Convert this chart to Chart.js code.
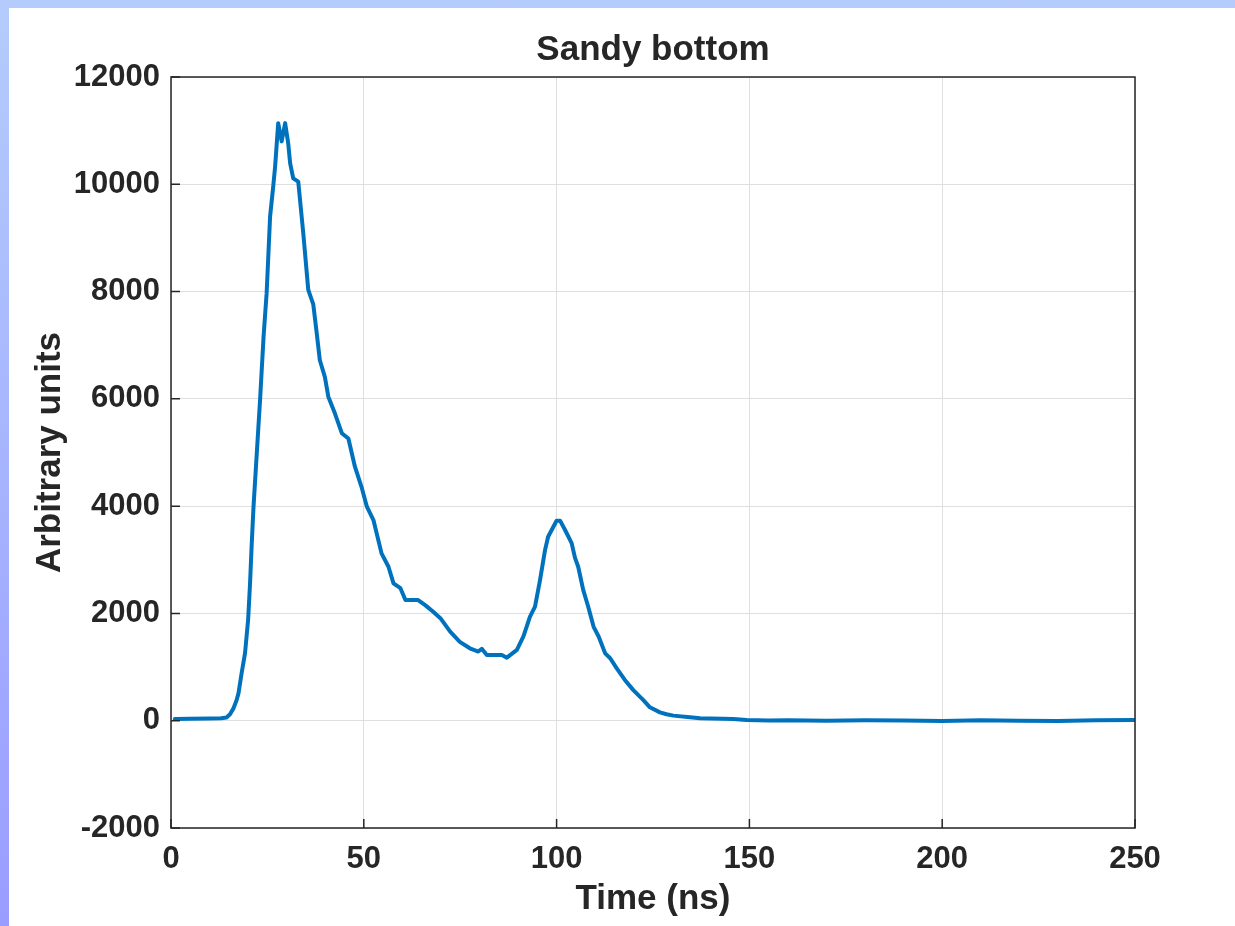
<!DOCTYPE html>
<html>
<head>
<meta charset="utf-8">
<script src="https://cdn.jsdelivr.net/npm/chart.js@4/dist/chart.umd.min.js"></script>
<style>
  html, body { margin: 0; padding: 0; }
  #frame { position: relative; width: 1235px; height: 926px; background: linear-gradient(#b4ccfc, #9a9cff); overflow: hidden; }
  #paper { position: absolute; left: 9px; top: 8px; right: 0; bottom: 0; background: #fff; }
  #chart { position: absolute; left: 0; top: 0; }
</style>
</head>
<body>
<div id="frame">
  <div id="paper"></div>
  <canvas id="chart" width="1235" height="926"></canvas>
</div>
<script>
// data (time in ns, signal in arbitrary units)
const times = [1, 5, 10, 13, 14.4, 15.3, 16.2, 17.0, 17.5, 18.3, 19.2, 20.0, 20.5, 20.9, 21.4, 22.3, 23.1, 24.0,
  24.8, 25.7, 26.5, 27.0, 27.8, 28.7, 29.6, 30.4, 30.9, 31.7, 33.0, 34.3, 35.6, 36.9, 37.8, 38.6, 39.9, 40.8,
  42.5, 44.3, 46.0, 47.7, 49.4, 50.8, 52.5, 54.6, 56.4, 57.7, 59.5, 60.8, 64.1, 66, 68, 70, 72.4, 74.9, 77.5,
  79.7, 80.6, 81.9, 85.8, 87.1, 89.7, 91.4, 93.1, 94.4, 95.7, 97.0, 97.8, 99.2, 100.0, 100.9, 102.2, 103.9,
  104.8, 105.6, 106.9, 108.2, 109.6, 110.9, 112.6, 113.9, 115.6, 117.7, 119.9, 122.5, 124.2, 126.8, 128.5,
  130.3, 134.6, 137.2, 145.8, 149.3, 155, 160, 170, 180, 190, 200, 210, 220, 230, 240, 250];
const signal = [30, 35, 40, 45, 60, 120, 230, 380, 510, 880, 1260, 1880, 2560, 3240, 3990, 5050, 5980, 7150,
  7970, 9400, 9955, 10330, 11140, 10800, 11140, 10760, 10390, 10110, 10050, 9090, 8030, 7760, 7220, 6720, 6410, 6040,
  5730, 5360, 5260, 4735, 4360, 3990, 3740, 3120, 2870, 2560, 2470, 2250, 2250, 2150, 2030, 1900, 1660, 1470, 1350,
  1290, 1340, 1225, 1225, 1175, 1320, 1570, 1940, 2125, 2620, 3180, 3430, 3620, 3730, 3730, 3555, 3310,
  3030, 2870, 2440, 2125, 1750, 1570, 1255, 1165, 975, 760, 570, 385, 250, 155, 120,
  95, 65, 45, 30, 13, 5, 10, 0, 10, 5, -5, 10, 0, -5, 10, 15];
const xTicks = [0, 50, 100, 150, 200, 250];
const yTicks = [-2000, 0, 2000, 4000, 6000, 8000, 10000, 12000];

const ink = '#262626';
const fontFam = '"Liberation Sans", Arial, sans-serif';

// box around the axes plus inward tick marks, matlab style
const axesBox = {
  id: 'axesBox',
  afterDraw(chart) {
    const { ctx, chartArea: a, scales } = chart;
    ctx.save();
    ctx.strokeStyle = ink;
    ctx.lineWidth = 1.5;
    ctx.strokeRect(a.left, a.top, a.right - a.left, a.bottom - a.top);
    ctx.beginPath();
    xTicks.forEach(v => {
      const px = scales.x.getPixelForValue(v);
      ctx.moveTo(px, a.bottom); ctx.lineTo(px, a.bottom - 9);
    });
    yTicks.forEach(v => {
      const py = scales.y.getPixelForValue(v);
      ctx.moveTo(a.left, py); ctx.lineTo(a.left + 9, py);
    });
    ctx.stroke();
    ctx.restore();
  }
};

new Chart(document.getElementById('chart'), {
  type: 'line',
  data: {
    datasets: [{
      data: times.map((t, i) => ({ x: t, y: signal[i] })),
      borderColor: '#0072BD',
      borderWidth: 4,
      borderJoinStyle: 'round',
      borderCapStyle: 'round',
      pointRadius: 0,
      tension: 0,
      fill: false
    }]
  },
  options: {
    responsive: false,
    animation: false,
    layout: { padding: { left: 0, right: 100, top: 0, bottom: 0 } },
    plugins: {
      legend: { display: false },
      tooltip: { enabled: false },
      title: {
        display: true,
        fullSize: false,
        text: 'Sandy bottom',
        color: ink,
        font: { family: fontFam, size: 35, weight: 'bold', lineHeight: 1.2 },
        padding: { top: 29, bottom: 6 }
      }
    },
    scales: {
      x: {
        type: 'linear',
        min: 0, max: 250,
        afterBuildTicks: s => { s.ticks = xTicks.map(v => ({ value: v })); },
        afterFit: s => { s.height = 98; },
        grid: { color: '#dfdfdf', lineWidth: 1, drawTicks: false },
        border: { display: false },
        ticks: { color: ink, padding: 13, maxRotation: 0, font: { family: fontFam, size: 31, weight: 'bold' }, callback: v => String(v) },
        title: {
          display: true, text: 'Time (ns)', color: ink,
          font: { family: fontFam, size: 35, weight: 'bold', lineHeight: 1.2 },
          padding: { top: 0, bottom: 6 }
        }
      },
      y: {
        min: -2000, max: 12000,
        afterBuildTicks: s => { s.ticks = yTicks.map(v => ({ value: v })); },
        afterFit: s => { s.width = 171; },
        grid: { color: '#dfdfdf', lineWidth: 1, drawTicks: false },
        border: { display: false },
        ticks: { color: ink, padding: 11, font: { family: fontFam, size: 31, weight: 'bold' }, callback: v => String(v) },
        title: {
          display: true, text: 'Arbitrary units', color: ink,
          font: { family: fontFam, size: 35, weight: 'bold', lineHeight: 1.2 },
          padding: { top: 29, bottom: 0 }
        }
      }
    }
  },
  plugins: [axesBox]
});
</script>
</body>
</html>
